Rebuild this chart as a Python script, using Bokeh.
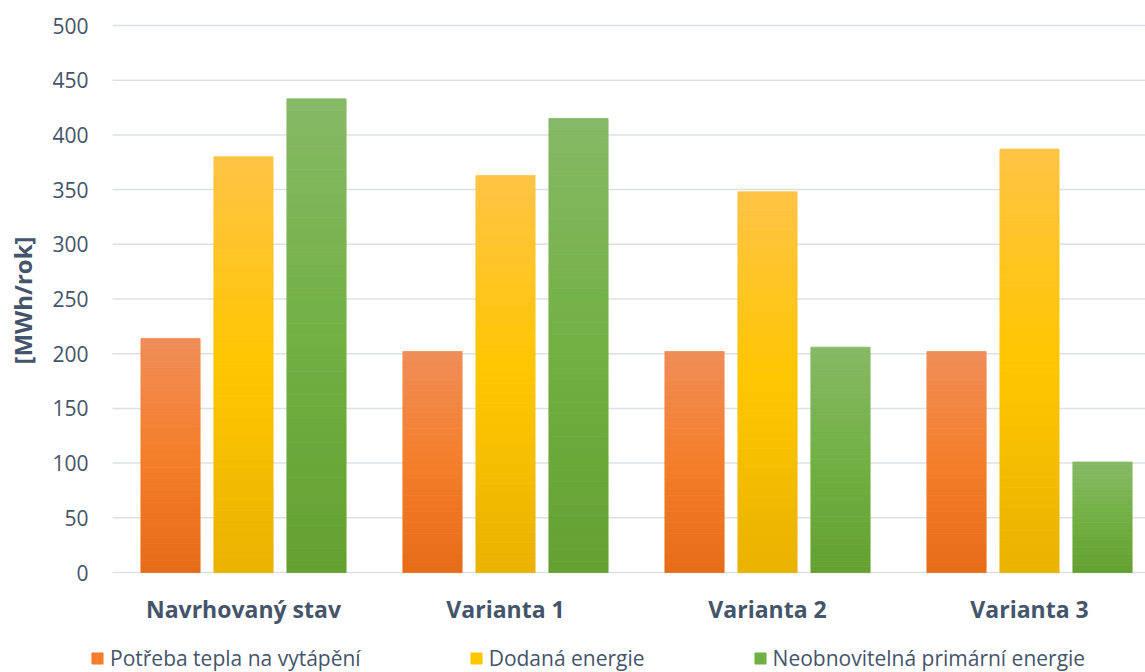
import math
from bokeh.plotting import figure
from bokeh.models import (ColumnDataSource, Range1d, Legend, LegendItem)
from bokeh.core.properties import value
from bokeh.embed import file_html
from bokeh.resources import INLINE

# ---- data ----
categories = ["Navrhovaný stav", "Varianta 1", "Varianta 2", "Varianta 3"]
series_names = ["Potřeba tepla na vytápění", "Dodaná energie", "Neobnovitelná primární energie"]
potreba_tepla = [214, 202, 202, 202]
dodana_energie = [380, 363, 348, 387]
neobnovitelna = [433, 415, 206, 101]
y_ticks = [0, 50, 100, 150, 200, 250, 300, 350, 400, 450, 500]
y_title = "[MWh/rok]"

# gradient stops per series (top, middle, bottom)
stops = [
    ["#F08D58", "#F47E2A", "#E66C18"],
    ["#FFC445", "#FFC600", "#E8B300"],
    ["#86B966", "#72B043", "#64A032"],
]
series_values = [potreba_tepla, dodana_energie, neobnovitelna]

TEXT = "#44546A"
GRID = "#DCE0E6"
FONT = "Open Sans"

# ---- layout constants (canvas pixels) ----
W, H = 1145, 672
PLOT_LEFT, ZERO_Y = 112, 572     # where category axis starts / where value 0 sits
CAT_PX = 262.0                   # pixels per category
VAL_PX = 1.094                   # pixels per MWh/rok unit


def hex2rgb(h):
    h = h.lstrip("#")
    return [int(h[i:i + 2], 16) for i in (0, 2, 4)]


def interp(cs, t):
    a, b, c = [hex2rgb(x) for x in cs]
    if t <= 0.5:
        u = t / 0.5
        p_, q_ = a, b
    else:
        u = (t - 0.5) / 0.5
        p_, q_ = b, c
    r = [round(p_[i] + (q_[i] - p_[i]) * u) for i in range(3)]
    return "#%02x%02x%02x" % tuple(r)


x_end = (W - PLOT_LEFT) / CAT_PX
p = figure(width=W, height=H, output_backend="svg", toolbar_location=None,
           x_range=Range1d(-PLOT_LEFT / CAT_PX, x_end),
           y_range=Range1d(-(H - ZERO_Y) / VAL_PX, ZERO_Y / VAL_PX),
           x_axis_location=None, y_axis_location=None,
           min_border=0)
p.outline_line_color = None
p.background_fill_color = "white"
p.border_fill_color = "white"
p.grid.visible = False

# value gridlines
p.segment(x0=[0] * len(y_ticks), x1=[x_end] * len(y_ticks), y0=y_ticks, y1=y_ticks,
          line_color=GRID, line_width=1.5)

# value tick labels
p.text(x=[-24 / CAT_PX] * len(y_ticks), y=y_ticks, text=[str(t) for t in y_ticks],
       text_align="right", text_baseline="middle", text_font=value(FONT),
       text_font_size="21px", text_color=TEXT)

# value axis title
p.text(x=[-(PLOT_LEFT - 22) / CAT_PX], y=[(ZERO_Y - 300) / VAL_PX], text=[y_title],
       angle=math.pi / 2, text_align="center", text_baseline="middle",
       text_font=value(FONT), text_font_size="24px", text_font_style="bold",
       text_color=TEXT)

# category labels
p.text(x=[i + 0.5 for i in range(len(categories))],
       y=[-(608 - ZERO_Y) / VAL_PX] * len(categories), text=categories,
       text_align="center", text_baseline="middle", text_font=value(FONT),
       text_font_size="23px", text_font_style="bold", text_color=TEXT)

# bars (vertical gradient built from thin slices)
offsets = [-0.2786, 0.0, 0.2786]
bw = 0.226
N = 40
renderers = []
for s, vals in enumerate(series_values):
    left, right, bottom, top, color = [], [], [], [], []
    for i, v in enumerate(vals):
        cx = i + 0.5 + offsets[s]
        for k in range(N):
            left.append(cx - bw / 2)
            right.append(cx + bw / 2)
            bottom.append(v * k / N)
            top.append(v * (k + 1) / N)
            color.append(interp(stops[s], 1 - (k + 0.5) / N))
    src = ColumnDataSource(dict(left=left, right=right, bottom=bottom, top=top, color=color))
    r = p.quad(left="left", right="right", bottom="bottom", top="top", source=src,
               fill_color="color", line_color="color", line_width=0.8)
    renderers.append(r)

# legend
items = [LegendItem(label=series_names[s], renderers=[renderers[s]], index=N // 2)
         for s in range(3)]
legend = Legend(items=items, orientation="horizontal", location=(90, 0),
                padding=0, margin=0, spacing=108, label_standoff=6,
                glyph_width=14, glyph_height=14,
                label_text_font=FONT, label_text_font_size="21px",
                label_text_color=TEXT, border_line_color=None,
                background_fill_alpha=0)
p.add_layout(legend, "center")

open("out.html", "w").write(file_html(p, INLINE))
